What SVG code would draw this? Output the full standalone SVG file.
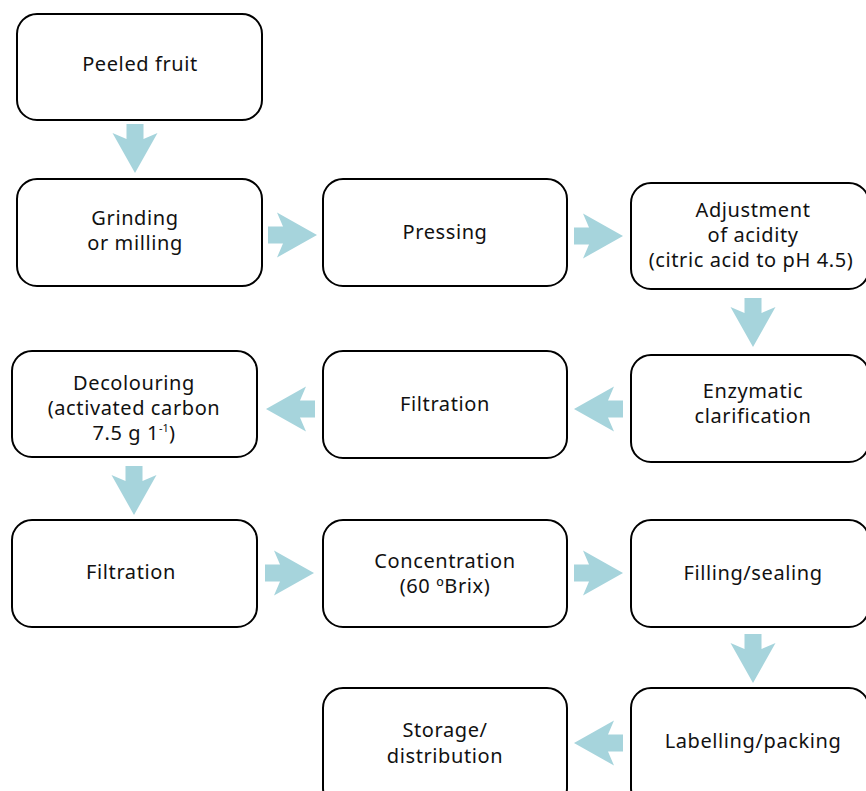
<svg xmlns="http://www.w3.org/2000/svg" xmlns:xlink="http://www.w3.org/1999/xlink" width="866" height="791" viewBox="0 0 866 791">
  <style>
    .box { fill: #ffffff; stroke: #000000; stroke-width: 2; }
    .lbl { font-family: "Noto Sans", "Open Sans", sans-serif; font-size: 20px; letter-spacing: 0.6px; fill: #111111; text-anchor: middle; }
    .sup { font-size: 11px; letter-spacing: 0; }
    .arrow { fill: #a6d4dc; }
  </style>
  <defs>
    <!-- block arrow pointing right, tip at origin -->
    <path id="arr" class="arrow" d="M -49 -8.5 L -34 -8.5 L -40 -22.5 L 0 0 L -40 22.5 L -34 8.5 L -49 8.5 Z"/>
  </defs>
  <rect width="866" height="791" fill="#ffffff"/>

  <g id="connectors">
    <use href="#arr" transform="translate(135,173) rotate(90)"/>
    <use href="#arr" transform="translate(317,235)"/>
    <use href="#arr" transform="translate(623,236)"/>
    <use href="#arr" transform="translate(753,347) rotate(90)"/>
    <use href="#arr" transform="translate(574,409) rotate(180)"/>
    <use href="#arr" transform="translate(266,409) rotate(180)"/>
    <use href="#arr" transform="translate(134,515) rotate(90)"/>
    <use href="#arr" transform="translate(314,573)"/>
    <use href="#arr" transform="translate(623,573)"/>
    <use href="#arr" transform="translate(753,683) rotate(90)"/>
    <use href="#arr" transform="translate(574,743) rotate(180)"/>
  </g>

  <g id="peeled">
    <rect class="box" x="17" y="14" width="245" height="106" rx="20"/>
    <text class="lbl" x="140" y="71">Peeled fruit</text>
  </g>
  <g id="grinding">
    <rect class="box" x="17" y="179" width="245" height="107" rx="20"/>
    <text class="lbl" x="135" y="225">Grinding</text>
    <text class="lbl" x="135" y="250">or milling</text>
  </g>
  <g id="pressing">
    <rect class="box" x="323" y="179" width="244" height="107" rx="20"/>
    <text class="lbl" x="445" y="239">Pressing</text>
  </g>
  <g id="acidity">
    <rect class="box" x="631" y="183" width="238" height="106" rx="20"/>
    <text class="lbl" x="753" y="217">Adjustment</text>
    <text class="lbl" x="753" y="242">of acidity</text>
    <text class="lbl" x="751" y="267">(citric acid to pH 4.5)</text>
  </g>
  <g id="enzymatic">
    <rect class="box" x="631" y="355" width="238" height="107" rx="20"/>
    <text class="lbl" x="753" y="398">Enzymatic</text>
    <text class="lbl" x="753" y="423">clarification</text>
  </g>
  <g id="filtration1">
    <rect class="box" x="323" y="351" width="244" height="107" rx="20"/>
    <text class="lbl" x="445" y="411">Filtration</text>
  </g>
  <g id="decolouring">
    <rect class="box" x="12" y="351" width="245" height="106" rx="20"/>
    <text class="lbl" x="134" y="390">Decolouring</text>
    <text class="lbl" x="134" y="415">(activated carbon</text>
    <text class="lbl" x="134" y="440">7.5 g 1<tspan class="sup" dy="-8">-1</tspan><tspan dy="8">)</tspan></text>
  </g>
  <g id="filtration2">
    <rect class="box" x="12" y="520" width="245" height="107" rx="20"/>
    <text class="lbl" x="131" y="579">Filtration</text>
  </g>
  <g id="concentration">
    <rect class="box" x="323" y="520" width="244" height="107" rx="20"/>
    <text class="lbl" x="445" y="568">Concentration</text>
    <text class="lbl" x="445" y="593">(60 ºBrix)</text>
  </g>
  <g id="filling">
    <rect class="box" x="631" y="520" width="238" height="107" rx="20"/>
    <text class="lbl" x="753" y="580">Filling/sealing</text>
  </g>
  <g id="labelling">
    <rect class="box" x="631" y="688" width="238" height="120" rx="20"/>
    <text class="lbl" x="753" y="748">Labelling/packing</text>
  </g>
  <g id="storage">
    <rect class="box" x="323" y="688" width="244" height="120" rx="20"/>
    <text class="lbl" x="445" y="737">Storage/</text>
    <text class="lbl" x="445" y="763">distribution</text>
  </g>
</svg>
